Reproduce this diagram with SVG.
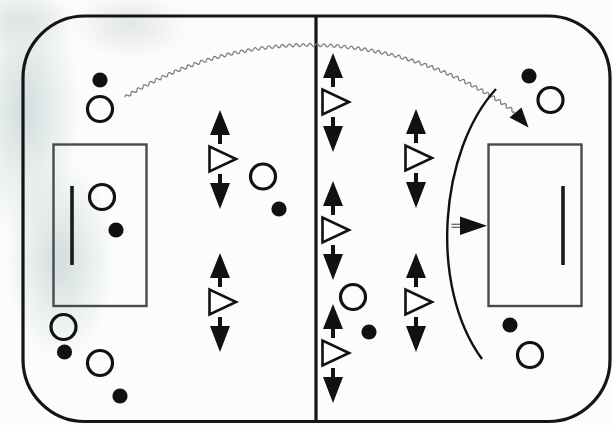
<svg xmlns="http://www.w3.org/2000/svg" xmlns:xlink="http://www.w3.org/1999/xlink" width="613" height="425" viewBox="0 0 613 425">
<style>
.rink{fill:none;stroke:#151515;stroke-width:3.2}
.goal{fill:none;stroke:#4a4a4a;stroke-width:2.4}
.gline{stroke:#1a1a1a;stroke-width:3.6}
.ring{fill:none;stroke:#111;stroke-width:3.2}
.dot{fill:#111}
.tri{fill:#fff;stroke:#111;stroke-width:2.6;stroke-linejoin:miter}
.arr{fill:#111}
.wave{fill:none;stroke:#7c7c7c;stroke-width:1.3}
.curve{fill:none;stroke:#111;stroke-width:2.4}
</style>
<defs>
<radialGradient id="smudge"><stop offset="0" stop-color="#c4d3d3" stop-opacity="0.75"/><stop offset="1" stop-color="#c4d3d3" stop-opacity="0"/></radialGradient>
<radialGradient id="smudge2"><stop offset="0" stop-color="#d2d8d8" stop-opacity="0.6"/><stop offset="1" stop-color="#d2d8d8" stop-opacity="0"/></radialGradient>
<g id="unit">
<polygon class="tri" points="-10.5,-12.5 -10.5,12.5 16,0"/>
<polygon class="arr" points="0,-49 10,-24 2,-24 2,-15 -2,-15 -2,-24 -10,-24"/>
<polygon class="arr" points="0,50 10,24 2,24 2,15 -2,15 -2,24 -10,24"/>
</g>
<path id="w0" d="M309,45 q1.723,-3 3.447,0 t3.447,0"/>
<g id="w1"><use href="#w0"/><use href="#w0" transform="rotate(1.1283 309 395)"/></g>
<g id="w2"><use href="#w1"/><use href="#w1" transform="rotate(2.2567 309 395)"/></g>
<g id="w3"><use href="#w2"/><use href="#w2" transform="rotate(4.5133 309 395)"/></g>
<g id="w4"><use href="#w3"/><use href="#w3" transform="rotate(9.0267 309 395)"/></g>
<g id="w5"><use href="#w4"/><use href="#w4" transform="rotate(18.0533 309 395)"/></g>
</defs>
<rect x="0" y="0" width="613" height="425" fill="#fcfcfc"/>
<g id="background">
<ellipse cx="25" cy="110" rx="55" ry="130" fill="url(#smudge)"/>
<ellipse cx="60" cy="260" rx="55" ry="100" fill="url(#smudge)"/>
<ellipse cx="130" cy="25" rx="60" ry="35" fill="url(#smudge2)"/>
<ellipse cx="20" cy="20" rx="60" ry="30" fill="url(#smudge2)"/>
</g>
<g id="rink">
<rect class="rink" x="23" y="16" width="587" height="405.5" rx="62" ry="62"/>
<line x1="316" y1="16" x2="316" y2="422" stroke="#151515" stroke-width="3.2"/>
</g>
<g id="goal-left">
<rect class="goal" x="53.5" y="144.5" width="93" height="161.5"/>
<line class="gline" x1="72" y1="186" x2="72" y2="265"/>
</g>
<g id="goal-right">
<rect class="goal" x="488.5" y="144.5" width="93" height="161.5"/>
<line class="gline" x1="563" y1="186" x2="563" y2="265"/>
</g>
<g id="players-circles">
<circle class="ring" cx="100" cy="109" r="12.5"/>
<circle class="ring" cx="102" cy="197" r="12.5"/>
<circle class="ring" cx="263" cy="176.5" r="12.5"/>
<circle class="ring" cx="63.5" cy="327" r="12.5"/>
<circle class="ring" cx="100" cy="363" r="12.5"/>
<circle class="ring" cx="353" cy="297" r="12.5"/>
<circle class="ring" cx="550.5" cy="100" r="12.5"/>
<circle class="ring" cx="530" cy="355" r="12.5"/>
</g>
<g id="pucks">
<circle class="dot" cx="100" cy="80" r="7.6"/>
<circle class="dot" cx="116" cy="230" r="7.6"/>
<circle class="dot" cx="279" cy="209" r="7.6"/>
<circle class="dot" cx="64.5" cy="352" r="7.6"/>
<circle class="dot" cx="120" cy="396" r="7.6"/>
<circle class="dot" cx="369" cy="332" r="7.6"/>
<circle class="dot" cx="529" cy="76" r="7.6"/>
<circle class="dot" cx="510" cy="325" r="7.6"/>
</g>
<g id="unit-l1"><use href="#unit" x="220" y="159"/></g>
<g id="unit-l2"><use href="#unit" x="220" y="302"/></g>
<g id="unit-c1"><use href="#unit" x="333" y="102"/></g>
<g id="unit-c2"><use href="#unit" x="333" y="230"/></g>
<g id="unit-c3"><use href="#unit" x="333" y="353"/></g>
<g id="unit-r1"><use href="#unit" x="416" y="158"/></g>
<g id="unit-r2"><use href="#unit" x="416" y="302"/></g>
<g id="connectors">
<g class="wave" transform="rotate(-31.7 309 395)">
<use href="#w5"/>
<use href="#w4" transform="rotate(36.1067 309 395)"/>
<use href="#w3" transform="rotate(54.16 309 395)"/>
<use href="#w2" transform="rotate(63.1867 309 395)"/>
</g>
<polygon class="arr" points="509.5,117.5 521.5,107.5 528.5,127.5"/>
<path class="curve" d="M496,89 C440,150 428,285 482,359"/>
<line x1="451.5" y1="224.3" x2="461" y2="224.3" stroke="#666" stroke-width="1.3"/>
<line x1="451.5" y1="227.3" x2="461" y2="227.3" stroke="#666" stroke-width="1.3"/>
<polygon class="arr" points="460,216.5 487,225.8 460,235"/>
</g>
</svg>
